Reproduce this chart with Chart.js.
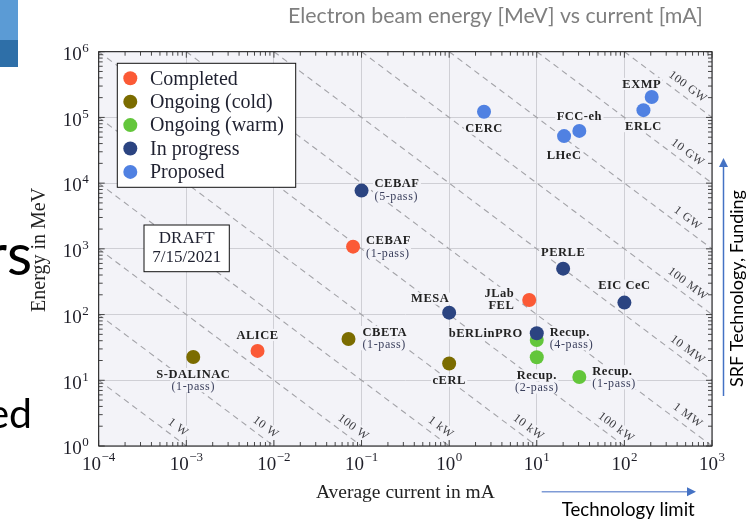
<!DOCTYPE html>
<html><head><meta charset="utf-8">
<script src="https://cdn.jsdelivr.net/npm/chart.js@4.4.1/dist/chart.umd.min.js"></script>
<style>html,body{margin:0;padding:0;background:#fff;overflow:hidden}#c{display:block}</style>
</head><body>
<canvas id="c" width="746" height="523"></canvas>
<script>
// ---------------- data ----------------
const categories = ['Completed', 'Ongoing (cold)', 'Ongoing (warm)', 'In progress', 'Proposed'];

const completedNames   = ['ALICE', 'CEBAF\n(1-pass)', 'JLab\nFEL'];
const completedCurrent = [0.0065, 0.08, 8.2];
const completedEnergy  = [28, 1080, 167];

const coldNames   = ['S-DALINAC\n(1-pass)', 'CBETA\n(1-pass)', 'cERL'];
const coldCurrent = [0.0012, 0.071, 1.0];
const coldEnergy  = [22.6, 42.5, 18];

const warmNames   = ['Recup.\n(4-pass)', 'Recup.\n(2-pass)', 'Recup.\n(1-pass)'];
const warmCurrent = [10, 10, 30.6];
const warmEnergy  = [41, 22.4, 11.2];

const progressNames   = ['CEBAF\n(5-pass)', 'MESA', 'bERLinPRO', 'PERLE', 'EIC CeC'];
const progressCurrent = [0.1, 1.0, 10, 20, 100];
const progressEnergy  = [7700, 107, 52, 500, 152];

const proposedNames   = ['CERC', 'LHeC', 'FCC-eh', 'EXMP', 'ERLC'];
const proposedCurrent = [2.5, 20.5, 30.6, 205, 165];
const proposedEnergy  = [122000, 52000, 62300, 205000, 129000];

// constant beam-power lines: energy[MeV] * current[mA] = power[kW]
const powerValues = [1e-3, 1e-2, 1e-1, 1, 10, 100, 1e3, 1e4, 1e5, 1e6, 1e7, 1e8];
const powerLabels = ['1 W', '10 W', '100 W', '1 kW', '10 kW', '100 kW', '1 MW', '10 MW', '100 MW', '1 GW', '10 GW', '100 GW'];

const xTickExponents = [-4, -3, -2, -1, 0, 1, 2, 3];
const yTickExponents = [0, 1, 2, 3, 4, 5, 6];

// ---------------- styles / placement ----------------
const COLORS = ['#FB5A36', '#7B6C00', '#63C63B', '#2B4481', '#5081E2'];
const PLOT_BG = '#F3F3F8';
const GRID = '#CFCFD5';
const SERIF = '"Liberation Serif", "DejaVu Serif", serif';
const SANS = 'Lato, "Open Sans", sans-serif';

// label offsets (pixels) relative to each point, per category
const placement = [
  [{dx:0,dy:-16,a:'center'}, {dx:13,dy:-6,a:'left'}, {dx:-15,dy:-7,a:'right'}],
  [{dx:0,dy:17,a:'center'}, {dx:14,dy:-7,a:'left'}, {dx:0,dy:17,a:'center'}],
  [{dx:13,dy:-8,a:'left'}, {dx:0,dy:18,a:'center'}, {dx:13,dy:-6,a:'left'}],
  [{dx:13,dy:-7,a:'left'}, {dx:-19,dy:-14,a:'center'}, {dx:-14,dy:0,a:'right'}, {dx:0,dy:-16,a:'center'}, {dx:0,dy:-17,a:'center'}],
  [{dx:0,dy:17,a:'center'}, {dx:0,dy:19,a:'center'}, {dx:0,dy:-15,a:'center'}, {dx:-10,dy:-13,a:'center'}, {dx:0,dy:16,a:'center'}]
];

const seriesNames = [completedNames, coldNames, warmNames, progressNames, proposedNames];
const seriesX = [completedCurrent, coldCurrent, warmCurrent, progressCurrent, proposedCurrent];
const seriesY = [completedEnergy, coldEnergy, warmEnergy, progressEnergy, proposedEnergy];
const drawOrder = [1, 2, 3, 0, 4];

const datasets = categories.map((c, i) => ({
  label: c,
  data: seriesX[i].map((x, j) => ({x, y: seriesY[i][j]})),
  backgroundColor: COLORS[i],
  borderColor: COLORS[i],
  borderWidth: 0,
  pointRadius: 7,
  order: drawOrder[i]
}));

function drawPointLabel(ctx, text, x, y, align) {
  const lines = text.split('\n');
  const boldF = 'bold 12.5px ' + SERIF;
  const subF = '12px ' + SERIF;
  lines.forEach((l, i) => {
    const isSub = i > 0 && l.startsWith('(');
    ctx.font = isSub ? subF : boldF;
    ctx.letterSpacing = isSub ? '0.6px' : '0.5px';
    const w = ctx.measureText(l).width;
    const left = align === 'center' ? x - w / 2 : align === 'left' ? x : x - w;
    const cy = y + i * 12.3;
    ctx.fillStyle = PLOT_BG;
    ctx.fillRect(left - 1.5, cy - 6, w + 3, 12);
    ctx.fillStyle = isSub ? '#3A3F5C' : '#222222';
    ctx.textAlign = 'left';
    ctx.textBaseline = 'middle';
    ctx.fillText(l, left, cy + 0.5);
  });
  ctx.letterSpacing = '0px';
}

function fitSize(ctx, text, family, target, weight) {
  ctx.font = (weight || '') + ' 100px ' + family;
  return 100 * target / ctx.measureText(text).width;
}

function drawPow(ctx, base, exp, x, y, align, bigSize, supSize, supRise) {
  ctx.textBaseline = 'alphabetic';
  ctx.textAlign = 'left';
  ctx.font = bigSize + 'px ' + SERIF;
  const w1 = ctx.measureText(base).width;
  ctx.font = supSize + 'px ' + SERIF;
  const w2 = ctx.measureText(exp).width;
  const tot = w1 + w2 + 0.5;
  let left = align === 'center' ? x - tot / 2 : x - tot;
  ctx.font = bigSize + 'px ' + SERIF;
  ctx.fillText(base, left, y);
  ctx.font = supSize + 'px ' + SERIF;
  ctx.fillText(exp, left + w1 + 0.5, y - supRise);
}

const decor = {
  id: 'decor',
  beforeDraw(chart) {
    const {ctx, chartArea: a} = chart;
    ctx.save();
    ctx.fillStyle = '#fff';
    ctx.fillRect(0, 0, chart.width, chart.height);
    ctx.fillStyle = PLOT_BG;
    ctx.fillRect(a.left, a.top, a.right - a.left, a.bottom - a.top);
    ctx.restore();
  },
  beforeDatasetsDraw(chart) {
    const {ctx, chartArea: a, scales: {x: xs, y: ys}} = chart;
    ctx.save();
    ctx.beginPath();
    ctx.rect(a.left, a.top, a.right - a.left, a.bottom - a.top);
    ctx.clip();
    // power lines
    const xmin = xs.min, xmax = xs.max, ymin = ys.min, ymax = ys.max;
    powerValues.forEach((P, k) => {
      const x1 = Math.max(xmin, P / ymax), x2 = Math.min(xmax, P / ymin);
      const p1 = [xs.getPixelForValue(x1), ys.getPixelForValue(P / x1)];
      const p2 = [xs.getPixelForValue(x2), ys.getPixelForValue(P / x2)];
      ctx.strokeStyle = '#A3A3A8';
      ctx.lineWidth = 1.1;
      ctx.setLineDash([6, 4.5]);
      ctx.beginPath();
      ctx.moveTo(p1[0], p1[1]);
      ctx.lineTo(p2[0], p2[1]);
      ctx.stroke();
      ctx.setLineDash([]);
      // label
      let fx, fy;
      if (P <= 100) { fy = Math.pow(10, 0.163); fx = P / fy; }
      else { fx = Math.pow(10, 2.655); fy = P / fx; }
      const fp = [xs.getPixelForValue(fx), ys.getPixelForValue(fy)];
      const dx = p2[0] - p1[0], dy = p2[1] - p1[1];
      const L = Math.hypot(dx, dy);
      const ux = dx / L, uy = dy / L;
      const nx = uy, ny = -ux;
      const cx = fp[0] + nx * 10.4, cy = fp[1] + ny * 10.4;
      ctx.save();
      ctx.translate(cx, cy);
      ctx.rotate(Math.atan2(dy, dx));
      ctx.font = '12px ' + SERIF;
      ctx.letterSpacing = '0.6px';
      const w = ctx.measureText(powerLabels[k]).width;
      ctx.fillStyle = PLOT_BG;
      ctx.fillRect(-w / 2 - 1, -6, w + 2, 12);
      ctx.fillStyle = '#3F3F44';
      ctx.textAlign = 'center';
      ctx.textBaseline = 'middle';
      ctx.fillText(powerLabels[k], 0, 0.5);
      ctx.letterSpacing = '0px';
      ctx.restore();
    });
    ctx.restore();
    // point labels
    ctx.save();
    chart.data.datasets.forEach((ds, i) => {
      const meta = chart.getDatasetMeta(i);
      meta.data.forEach((pt, j) => {
        const pl = placement[i][j];
        drawPointLabel(ctx, seriesNames[i][j], pt.x + pl.dx, pt.y + pl.dy, pl.a);
      });
    });
    ctx.restore();
  },
  afterDraw(chart) {
    const {ctx, chartArea: a, scales: {x: xs, y: ys}} = chart;
    ctx.save();
    // frame
    ctx.strokeStyle = '#111';
    ctx.lineWidth = 1;
    ctx.strokeRect(a.left, a.top, a.right - a.left, a.bottom - a.top);
    // ticks
    ctx.strokeStyle = '#333';
    ctx.lineWidth = 0.9;
    ctx.beginPath();
    for (let e = xTickExponents[0]; e <= xTickExponents[xTickExponents.length - 1]; e++) {
      for (let m = 1; m <= 9; m++) {
        const v = m * Math.pow(10, e);
        if (v > xs.max * 1.0001) continue;
        const px = xs.getPixelForValue(v);
        const len = m === 1 ? 6 : 4;
        ctx.moveTo(px, a.bottom); ctx.lineTo(px, a.bottom - len);
        ctx.moveTo(px, a.top); ctx.lineTo(px, a.top + len);
      }
    }
    for (let e = yTickExponents[0]; e <= yTickExponents[yTickExponents.length - 1]; e++) {
      for (let m = 1; m <= 9; m++) {
        const v = m * Math.pow(10, e);
        if (v > ys.max * 1.0001) continue;
        const py = ys.getPixelForValue(v);
        const len = m === 1 ? 6 : 4;
        ctx.moveTo(a.left, py); ctx.lineTo(a.left + len, py);
        ctx.moveTo(a.right, py); ctx.lineTo(a.right - len, py);
      }
    }
    ctx.stroke();
    // tick labels
    ctx.fillStyle = '#1E1E28';
    xTickExponents.forEach(e => {
      const px = xs.getPixelForValue(Math.pow(10, e));
      drawPow(ctx, '10', String(e).replace('-', '\u2212'), px, a.bottom + 24, 'center', 19, 13, 9);
    });
    yTickExponents.forEach(e => {
      const py = ys.getPixelForValue(Math.pow(10, e));
      drawPow(ctx, '10', String(e), a.left - 10, py + 8.3, 'right', 19, 13, 8);
    });
    // axis titles
    ctx.fillStyle = '#222';
    ctx.font = '19.5px ' + SERIF;
    ctx.textAlign = 'center';
    ctx.textBaseline = 'middle';
    ctx.fillText('Average current in mA', (a.left + a.right) / 2, 493);
    ctx.save();
    ctx.translate(40, (a.top + a.bottom) / 2 + 1);
    ctx.rotate(-Math.PI / 2);
    ctx.font = '20px ' + SERIF;
    ctx.fillText('Energy in MeV', 0, 0);
    ctx.restore();
    // legend
    const lg = {x: 117.3, y: 63.3, w: 178.4, h: 124};
    ctx.fillStyle = '#fff';
    ctx.fillRect(lg.x, lg.y, lg.w, lg.h);
    ctx.strokeStyle = '#111';
    ctx.lineWidth = 1;
    ctx.strokeRect(lg.x, lg.y, lg.w, lg.h);
    categories.forEach((c, i) => {
      const cy = 78.3 + i * 23.4;
      ctx.fillStyle = COLORS[i];
      ctx.beginPath();
      ctx.arc(130.3, cy, 7, 0, Math.PI * 2);
      ctx.fill();
      ctx.fillStyle = '#1F2130';
      ctx.font = '20px ' + SERIF;
      ctx.textAlign = 'left';
      ctx.textBaseline = 'middle';
      ctx.fillText(c, 150, cy + 1);
    });
    // DRAFT box
    ctx.fillStyle = '#fff';
    ctx.fillRect(144, 225, 85.3, 46.7);
    ctx.strokeRect(144, 225, 85.3, 46.7);
    ctx.fillStyle = '#1F2130';
    ctx.font = '17px ' + SERIF;
    ctx.textAlign = 'center';
    ctx.fillText('DRAFT', 186.7, 238.5);
    ctx.fillText('7/15/2021', 186.7, 257.5);

    // ---- slide decorations ----
    ctx.fillStyle = '#5B9BD5';
    ctx.fillRect(0, 0, 18, 40);
    ctx.fillStyle = '#2E6FA8';
    ctx.fillRect(0, 40, 18, 27);
    // slide title
    ctx.fillStyle = '#7F7F7F';
    let s = fitSize(ctx, 'Electron beam energy [MeV] vs current [mA]', SANS, 415);
    ctx.font = s + 'px ' + SANS;
    ctx.textAlign = 'left';
    ctx.textBaseline = 'middle';
    ctx.fillText('Electron beam energy [MeV] vs current [mA]', 288, 16);
    // clipped slide body text
    ctx.fillStyle = '#000';
    ctx.textAlign = 'right';
    ctx.textBaseline = 'alphabetic';
    ctx.font = '58px ' + SANS;
    ctx.fillText('rs', 32, 275);
    ctx.font = '41px ' + SANS;
    ctx.fillText('ed', 32, 428);
    // vertical arrow
    ctx.strokeStyle = '#4472C4';
    ctx.fillStyle = '#4472C4';
    ctx.lineWidth = 1.5;
    ctx.beginPath();
    ctx.moveTo(723.5, 396); ctx.lineTo(723.5, 166); ctx.stroke();
    ctx.beginPath();
    ctx.moveTo(723.5, 158); ctx.lineTo(719, 167); ctx.lineTo(728, 167); ctx.closePath(); ctx.fill();
    ctx.save();
    ctx.translate(737.5, 288.5);
    ctx.rotate(-Math.PI / 2);
    ctx.fillStyle = '#000';
    s = fitSize(ctx, 'SRF Technology, Funding', SANS, 197);
    ctx.font = s + 'px ' + SANS;
    ctx.textAlign = 'center';
    ctx.textBaseline = 'middle';
    ctx.fillText('SRF Technology, Funding', 0, 0);
    ctx.restore();
    // horizontal arrow
    ctx.strokeStyle = '#7F9BD6';
    ctx.beginPath();
    ctx.moveTo(541.7, 491.7); ctx.lineTo(688, 491.7); ctx.stroke();
    ctx.fillStyle = '#4472C4';
    ctx.beginPath();
    ctx.moveTo(696, 491.7); ctx.lineTo(687, 487.2); ctx.lineTo(687, 496.2); ctx.closePath(); ctx.fill();
    ctx.fillStyle = '#000';
    s = fitSize(ctx, 'Technology limit', SANS, 133);
    ctx.font = s + 'px ' + SANS;
    ctx.textAlign = 'center';
    ctx.textBaseline = 'middle';
    ctx.fillText('Technology limit', 628.3, 510);
    ctx.restore();
  }
};

const axisCommon = {
  type: 'logarithmic',
  ticks: {display: false},
  border: {display: false},
  grid: {color: GRID, lineWidth: 1, drawTicks: false}
};

new Chart(document.getElementById('c'), {
  type: 'scatter',
  data: {datasets},
  options: {
    responsive: false,
    animation: false,
    events: [],
    layout: {padding: {left: 98.7, top: 51.7, right: 34, bottom: 77}},
    plugins: {legend: {display: false}, tooltip: {enabled: false}},
    scales: {
      x: Object.assign({}, axisCommon, {
        min: Math.pow(10, xTickExponents[0]), max: Math.pow(10, xTickExponents[xTickExponents.length - 1]),
        afterBuildTicks: s => { s.ticks = xTickExponents.map(e => ({value: Math.pow(10, e)})); },
        afterFit: s => { s.height = 0; }
      }),
      y: Object.assign({}, axisCommon, {
        min: Math.pow(10, yTickExponents[0]), max: Math.pow(10, yTickExponents[yTickExponents.length - 1]),
        afterBuildTicks: s => { s.ticks = yTickExponents.map(e => ({value: Math.pow(10, e)})); },
        afterFit: s => { s.width = 0; }
      })
    }
  },
  plugins: [decor]
});
</script>
</body></html>
